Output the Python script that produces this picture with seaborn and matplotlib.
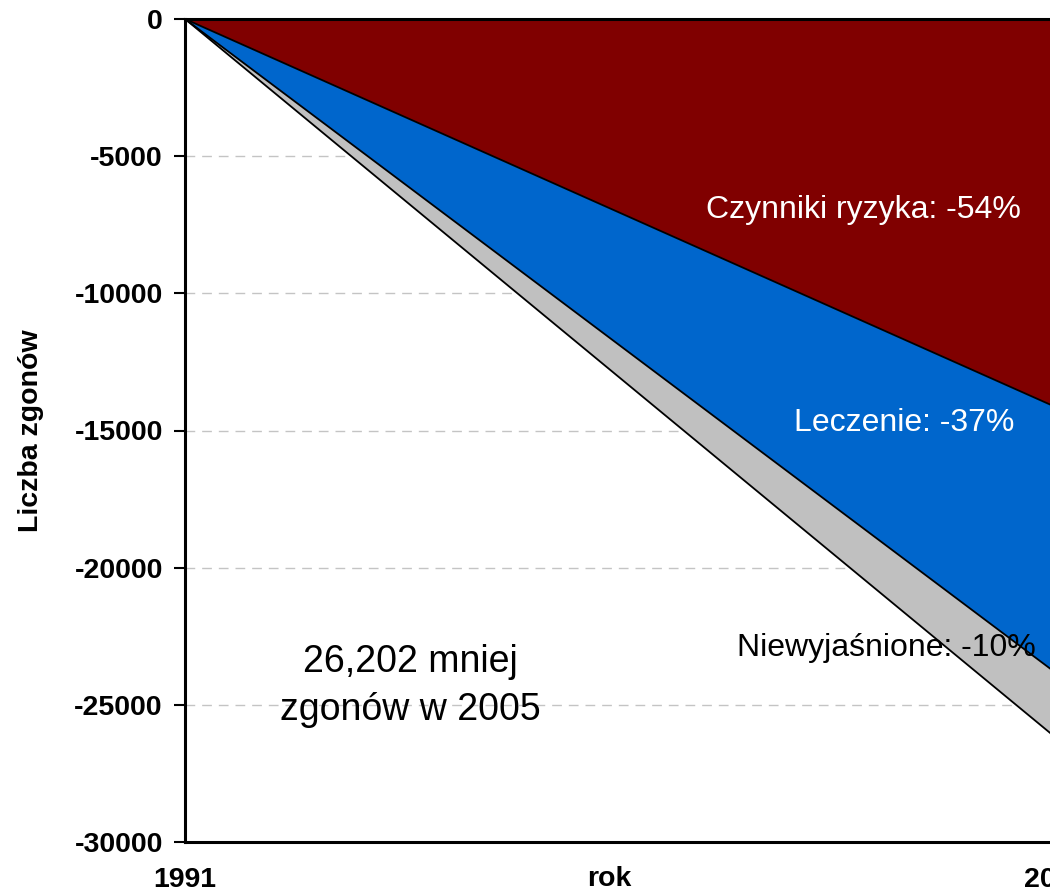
import matplotlib
matplotlib.use("Agg")
import matplotlib.pyplot as plt
import seaborn as sns
import pandas as pd
import numpy as np

# Decline in deaths between 1991 and 2005, split by cause
years = [1991, 2005]
risk_factors = [0, -14150]   # Czynniki ryzyka
treatment = [0, -9690]       # Leczenie
unexplained = [0, -2362]     # Niewyjaśnione

layer_names = ["Czynniki ryzyka", "Leczenie", "Niewyjaśnione"]
layer_colors = ["#800000", "#0066CC", "#C0C0C0"]

y_ticks = [0, -5000, -10000, -15000, -20000, -25000, -30000]
x_ticks = [1991, 2005]

sns.set_theme(style="white")
plt.rcParams["font.family"] = ["Liberation Sans", "DejaVu Sans"]

# cumulative boundaries of the stacked areas
layers = np.array([risk_factors, treatment, unexplained], dtype=float)
cum = np.vstack([np.zeros(len(years)), np.cumsum(layers, axis=0)])

df = pd.DataFrame(
    [{"rok": yr, "granica": i, "wartosc": cum[i, j]}
     for i in range(cum.shape[0]) for j, yr in enumerate(years)]
)

fig = plt.figure(figsize=(10.5, 8.93), dpi=100)
ax = fig.add_axes([185 / 1050, (893 - 842) / 893, 871 / 1050, 823 / 893])

for y in y_ticks[1:-1]:
    ax.axhline(y, color="#C4C4C4", lw=1.0, dashes=(7, 5), zorder=0)

for i, (name, col) in enumerate(zip(layer_names, layer_colors)):
    ax.fill_between(years, cum[i], cum[i + 1], color=col, lw=0, zorder=1)

sns.lineplot(data=df[df["granica"] > 0], x="rok", y="wartosc", units="granica",
             estimator=None, color="black", lw=1.3, ax=ax, zorder=2)

ax.set_xlim(years[0], years[-1])
ax.set_ylim(y_ticks[-1], y_ticks[0])
ax.set_yticks(y_ticks)
ax.set_yticklabels([str(v) for v in y_ticks])
ax.set_xticks(x_ticks)
ax.set_xticklabels([str(v) for v in x_ticks])

ax.tick_params(axis="y", which="major", left=True, length=8, width=1.5,
               color="black", labelcolor="black", pad=8, labelsize=20.5)
ax.tick_params(axis="x", which="major", bottom=False, pad=12,
               labelcolor="black", labelsize=20.5)
for lab in ax.get_xticklabels() + ax.get_yticklabels():
    lab.set_fontweight("bold")

for side in ["left", "bottom", "top", "right"]:
    ax.spines[side].set_color("black")
    ax.spines[side].set_linewidth(2.2)
    ax.spines[side].set_zorder(5)

ax.set_xlabel("rok", fontsize=20.5, fontweight="bold", color="black")
ax.xaxis.set_label_coords(0.487, -0.029, transform=ax.transAxes)
ax.xaxis.label.set_va("top")
ax.set_ylabel("Liczba zgonów", fontsize=20.5, fontweight="bold",
              color="black", labelpad=22)

ax.text(2001.91, -6962, "Czynniki ryzyka: -54%", color="white", fontsize=23,
        ha="center", va="center", zorder=3)
ax.text(2002.56, -14727, "Leczenie: -37%", color="white", fontsize=23,
        ha="center", va="center", zorder=3)
ax.text(2002.27, -22928, "Niewyjaśnione: -10%", color="black", fontsize=23,
        ha="center", va="center", zorder=3)
ax.text(1994.62, -24313, "26,202 mniej\nzgonów w 2005", color="black",
        fontsize=27, ha="center", va="center", linespacing=1.45, zorder=3)

fig.savefig("out.png", dpi=100)
